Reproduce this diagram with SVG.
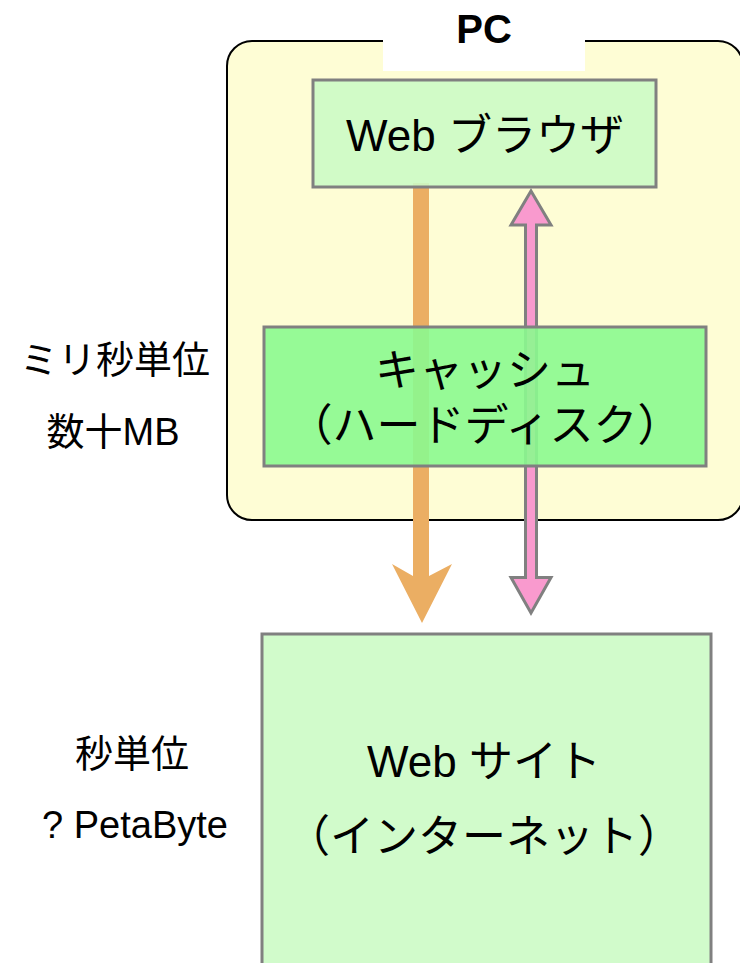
<svg xmlns="http://www.w3.org/2000/svg" width="740" height="963" viewBox="0 0 740 963">
  <style>
    text { font-family: "Liberation Sans", "Noto Sans CJK JP", sans-serif; fill: #000; text-anchor: middle; }
    .title { font-size: 40px; font-weight: bold; }
    .label { font-size: 44px; }
    .side { font-size: 38px; }
    .box { stroke: #808080; stroke-width: 3; fill-opacity: 0.9; }
    .light { fill: #CCFBC5; }
    .cache { fill: #8BF98F; }
  </style>

  <!-- PC container -->
  <g id="pc">
    <rect x="227" y="41" width="516" height="479" rx="25" ry="25" fill="#FEFDD5" stroke="#000" stroke-width="2"/>
    <rect x="383" y="0" width="202" height="71" fill="#FFFFFF"/>
    <text class="title" x="484" y="43">PC</text>
  </g>

  <!-- side notes -->
  <g id="notes">
    <text class="side" x="115" y="373">ミリ秒単位</text>
    <text class="side" x="113" y="445">数十MB</text>
    <text class="side" x="132" y="767">秒単位</text>
    <text class="side" x="135" y="838">? PetaByte</text>
  </g>

  <!-- connectors -->
  <g id="connectors">
    <!-- request path: browser to site -->
    <path d="M413,183 L429,183 L429,576 L452,564 L422,623 L392,564 L413,576 Z" fill="#EBAE63"/>
    <!-- two-way transfer between browser and site -->
    <path d="M531,191 L551,225 L536.5,225 L536.5,577.5 L551,577.5 L531,613 L511,577.5 L525.5,577.5 L525.5,225 L511,225 Z"
          fill="#F99ACE" stroke="#808080" stroke-width="3" stroke-linejoin="miter"/>
  </g>

  <!-- Web browser -->
  <g id="browser">
    <rect class="box light" x="313" y="80" width="343" height="107"/>
    <text class="label" x="485" y="151">Web ブラウザ</text>
  </g>

  <!-- cache -->
  <g id="cache">
    <rect class="box cache" x="264" y="327" width="442" height="139"/>
    <text class="label" x="485" y="386">キャッシュ</text>
    <text class="label" x="485" y="441">（ハードディスク）</text>
  </g>

  <!-- Web site -->
  <g id="site">
    <rect class="box light" x="262" y="634" width="449" height="340"/>
    <text class="label" x="484" y="777">Web サイト</text>
    <text class="label" x="484" y="852">（インターネット）</text>
  </g>
</svg>
